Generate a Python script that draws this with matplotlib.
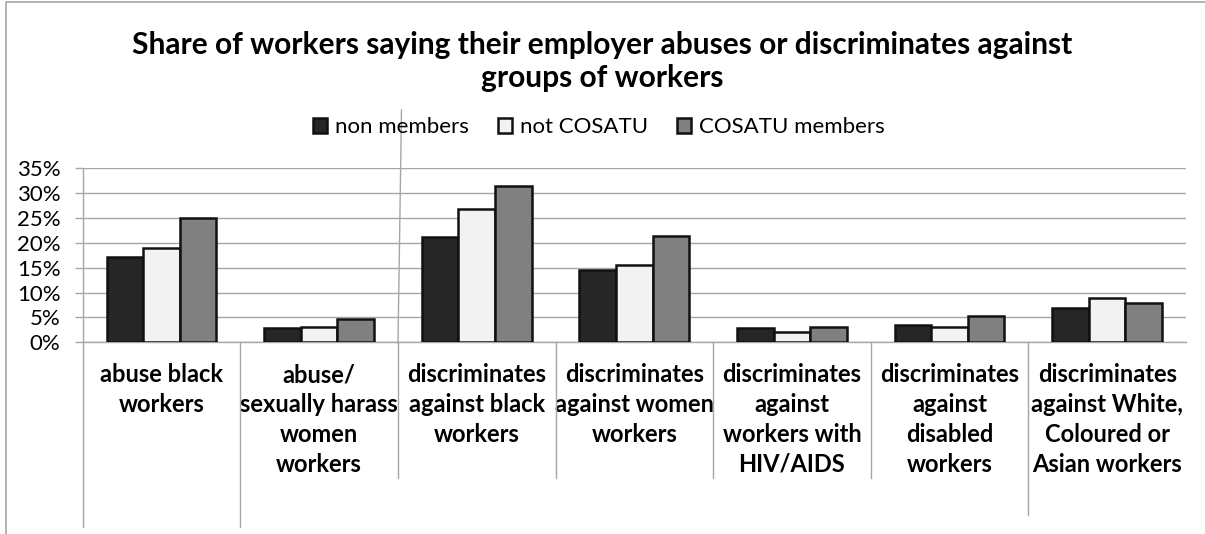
import numpy as np
import matplotlib.pyplot as plt
from matplotlib.lines import Line2D
from matplotlib.transforms import blended_transform_factory

plt.rcParams['font.family'] = ['Lato', 'DejaVu Sans']

# categories and shares (fraction of workers)
categories = [
    'abuse black\nworkers',
    'abuse/\nsexually harass\nwomen\nworkers',
    'discriminates\nagainst black\nworkers',
    'discriminates\nagainst women\nworkers',
    'discriminates\nagainst\nworkers with\nHIV/AIDS',
    'discriminates\nagainst\ndisabled\nworkers',
    'discriminates\nagainst White,\nColoured or\nAsian workers',
]
series_names = ['non members', 'not COSATU', 'COSATU members']
non_members = [0.172, 0.028, 0.211, 0.145, 0.028, 0.035, 0.068]
not_cosatu = [0.189, 0.031, 0.269, 0.155, 0.021, 0.031, 0.090]
cosatu_members = [0.250, 0.047, 0.314, 0.213, 0.031, 0.053, 0.079]
y_ticks = [0, 0.05, 0.10, 0.15, 0.20, 0.25, 0.30, 0.35]

fills = ['#262626', '#f2f2f2', '#808080']
grid_col = '#a6a6a6'

fig = plt.figure(figsize=(12.05, 5.34), dpi=100)
ax = fig.add_axes([0.0686, 0.359, 0.9156, 0.3258])

x = np.arange(len(categories))
w = 0.232
for i, vals in enumerate([non_members, not_cosatu, cosatu_members]):
    ax.bar(x + (i - 1) * w, vals, w, color=fills[i], edgecolor='#111111',
           linewidth=1.8, label=series_names[i], zorder=3)

ax.set_xlim(-0.5, len(categories) - 0.5)
ax.set_ylim(0, 0.35)
ax.set_yticks(y_ticks)
ax.set_yticklabels([f'{int(round(t * 100))}%' for t in y_ticks])
ax.yaxis.grid(True, color=grid_col, linewidth=1.0)
ax.set_axisbelow(True)

for s in ['top', 'right']:
    ax.spines[s].set_visible(False)
for s in ['left', 'bottom']:
    ax.spines[s].set_color(grid_col)
    ax.spines[s].set_linewidth(1.0)

ax.tick_params(axis='y', length=6, color=grid_col, width=1.0, pad=10,
               labelsize=16)
ax.set_xticks(x)
ax.set_xticklabels(categories, fontweight='bold', fontsize=17, linespacing=1.36)
ax.tick_params(axis='x', length=0, pad=15)

# category separators hanging below the axis
trans = blended_transform_factory(ax.transData, ax.transAxes)
sep_bottom = [-1.06, -1.06, -0.78, -0.78, -0.78, -0.78, -0.99]
for k, yb in enumerate(sep_bottom):
    ax.plot([k - 0.5, k - 0.5], [0, yb], color=grid_col, linewidth=1.0,
            transform=trans, clip_on=False)

# stray connector from the legend down to the axis
fig.add_artist(Line2D([401.5 / 1205, 398 / 1205], [1 - 110 / 534, 1 - 343 / 534],
                      color=grid_col, linewidth=1.0, transform=fig.transFigure))

# chart area frame (top and left edges)
fig.add_artist(Line2D([6 / 1205, 6 / 1205, 1], [0, 1 - 1.5 / 534, 1 - 1.5 / 534],
                      color=grid_col, linewidth=1.2, transform=fig.transFigure))

fig.text(0.5, 1 - 45 / 534, 'Share of workers saying their employer abuses or discriminates against',
         ha='center', va='center', fontsize=21.5, fontweight='bold')
fig.text(0.5, 1 - 78 / 534, 'groups of workers',
         ha='center', va='center', fontsize=21.5, fontweight='bold')

fig.legend(loc='center', bbox_to_anchor=(0.497, 1 - 127 / 534), ncol=3,
           frameon=False, fontsize=16, handlelength=0.65, handleheight=0.65,
           handletextpad=0.35, columnspacing=1.3)

fig.savefig('out.png', dpi=100)
